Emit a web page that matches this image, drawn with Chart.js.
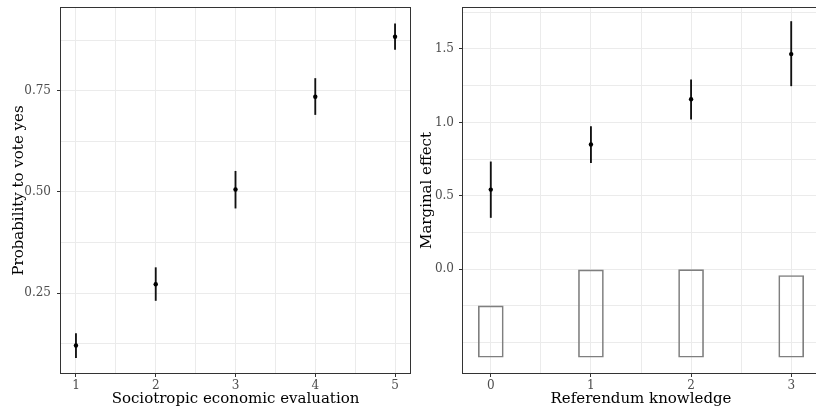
<!DOCTYPE html>
<html>
<head>
<meta charset="utf-8">
<script src="https://cdn.jsdelivr.net/npm/chart.js@4/dist/chart.umd.min.js"></script>
<style>
    html, body { margin: 0; padding: 0; background: #fff; overflow: hidden; width: 816px; height: 409px; }
    canvas { position: absolute; top: 0; background: #fff; }
    #leftChart  { left: 0; }
    #rightChart { left: 411px; }
</style>
</head>
<body>
<canvas id="leftChart" width="412" height="409"></canvas>
<canvas id="rightChart" width="410" height="409"></canvas>
<script>
// ── DATA: left panel (predicted probability) ──
const evalLevels = [1, 2, 3, 4, 5];
const probYes    = [0.121, 0.272, 0.506, 0.735, 0.883];
const probLow    = [0.091, 0.232, 0.460, 0.691, 0.852];
const probHigh   = [0.150, 0.313, 0.551, 0.780, 0.915];

const leftXMajor = [1, 2, 3, 4, 5];
const leftXMinor = [1.5, 2.5, 3.5, 4.5];
const leftYMajor = [0.25, 0.50, 0.75];
const leftYMinor = [0.125, 0.375, 0.625, 0.875];

// ── DATA: right panel (marginal effect) ──
const knowLevels = [0, 1, 2, 3];
const margEff    = [0.542, 0.849, 1.158, 1.465];
const margLow    = [0.352, 0.726, 1.022, 1.249];
const margHigh   = [0.731, 0.971, 1.290, 1.687];
const histBase   = -0.60;
const histTop    = [-0.250, -0.005, 0.000, -0.043];

const rightXMajor = [0, 1, 2, 3];
const rightXMinor = [0.5, 1.5, 2.5];
const rightYMajor = [0, 0.5, 1.0, 1.5];
const rightYMinor = [-0.5, -0.25, 0.25, 0.75, 1.25, 1.75];

// ── HELPERS ──
Chart.defaults.font.family = "'DejaVu Serif', serif";

const frame = {
    id: 'frame',
    afterDatasetsDraw(chart) {
        const { ctx, chartArea: a } = chart;
        ctx.save();
        ctx.strokeStyle = '#333333';
        ctx.lineWidth = 1;
        ctx.strokeRect(Math.round(a.left) + 0.5, Math.round(a.top) + 0.5,
                       Math.round(a.right - a.left) - 1, Math.round(a.bottom - a.top) - 1);
        ctx.restore();
    }
};

function axis(opts) {
    const { min, max, major, minor, fmt, title, fit, horizontal, tickPad, titlePad } = opts;
    const all = [...major, ...minor].sort((a, b) => a - b);
    const isMajor = v => major.some(m => Math.abs(m - v) < 1e-9);
    return {
        type: 'linear',
        min, max,
        offset: false,
        afterBuildTicks: s => { s.ticks = all.map(v => ({ value: v })); },
        afterFit: s => {
            if (horizontal) s.height = fit; else s.width = fit;
            // keep the plot panel exactly where the layout padding puts it
            s.paddingTop = s.paddingBottom = s.paddingLeft = s.paddingRight = 0;
        },
        border: { display: false },
        grid: {
            offset: false,
            color: '#ebebeb',
            lineWidth: 1,
            drawTicks: true,
            tickLength: 3,
            tickColor: ctx => (ctx.tick && isMajor(ctx.tick.value)) ? '#333333' : 'rgba(0,0,0,0)'
        },
        ticks: {
            autoSkip: false,
            maxRotation: 0,
            padding: tickPad,
            color: '#4d4d4d',
            font: { size: 12 },
            callback: v => isMajor(v) ? fmt(v) : ''
        },
        title: {
            display: true,
            text: title,
            color: '#000',
            font: { size: 15 },
            padding: titlePad
        }
    };
}

function panel(canvasId, xs, est, low, high, scales, extra) {
    const datasets = [
        {
            type: 'scatter',
            data: xs.map((x, i) => ({ x, y: est[i] })),
            backgroundColor: '#000',
            borderWidth: 0,
            pointRadius: 2.2,
            order: 0
        },
        {
            type: 'bar',
            data: xs.map((x, i) => ({ x, y: [low[i], high[i]] })),
            backgroundColor: '#111',
            barThickness: 1.2,
            grouped: false,
            order: 1
        }
    ];
    if (extra) datasets.push(extra);
    return new Chart(document.getElementById(canvasId), {
        type: 'bar',
        data: { datasets },
        options: {
            responsive: false,
            animation: false,
            layout: { autoPadding: false, padding: { top: 7, right: 1, left: 0, bottom: 0 } },
            plugins: { legend: { display: false }, tooltip: { enabled: false } },
            scales
        },
        plugins: [frame]
    });
}

// ── LEFT CHART ──
panel('leftChart', evalLevels, probYes, probLow, probHigh, {
    x: axis({ min: 0.8, max: 5.2, major: leftXMajor, minor: leftXMinor, fmt: v => String(v),
              title: 'Sociotropic economic evaluation', fit: 35, horizontal: true,
              tickPad: 2, titlePad: { top: 0, bottom: 1 } }),
    y: axis({ min: 0.0505, max: 0.9565, major: leftYMajor, minor: leftYMinor, fmt: v => v.toFixed(2),
              title: 'Probability to vote yes', fit: 60, horizontal: false,
              tickPad: 6, titlePad: { top: 10, bottom: 0 } })
});

// ── RIGHT CHART ── (panel runs past the page edge, as in the original)
panel('rightChart', knowLevels, margEff, margLow, margHigh, {
    x: axis({ min: -0.2875, max: 3.2875, major: rightXMajor, minor: rightXMinor, fmt: v => String(v),
              title: 'Referendum knowledge', fit: 35, horizontal: true,
              tickPad: 2, titlePad: { top: 0, bottom: 1 } }),
    y: axis({ min: -0.714, max: 1.786, major: rightYMajor, minor: rightYMinor, fmt: v => v.toFixed(1),
              title: 'Marginal effect', fit: 51, horizontal: false,
              tickPad: 5, titlePad: { top: 7, bottom: 0 } })
}, {
    type: 'bar',
    data: knowLevels.map((x, i) => ({ x, y: [histBase, histTop[i]] })),
    backgroundColor: 'rgba(0,0,0,0)',
    borderColor: '#7f7f7f',
    borderWidth: 1,
    borderSkipped: false,
    barThickness: 25,
    grouped: false,
    order: 2
});
</script>
</body>
</html>
